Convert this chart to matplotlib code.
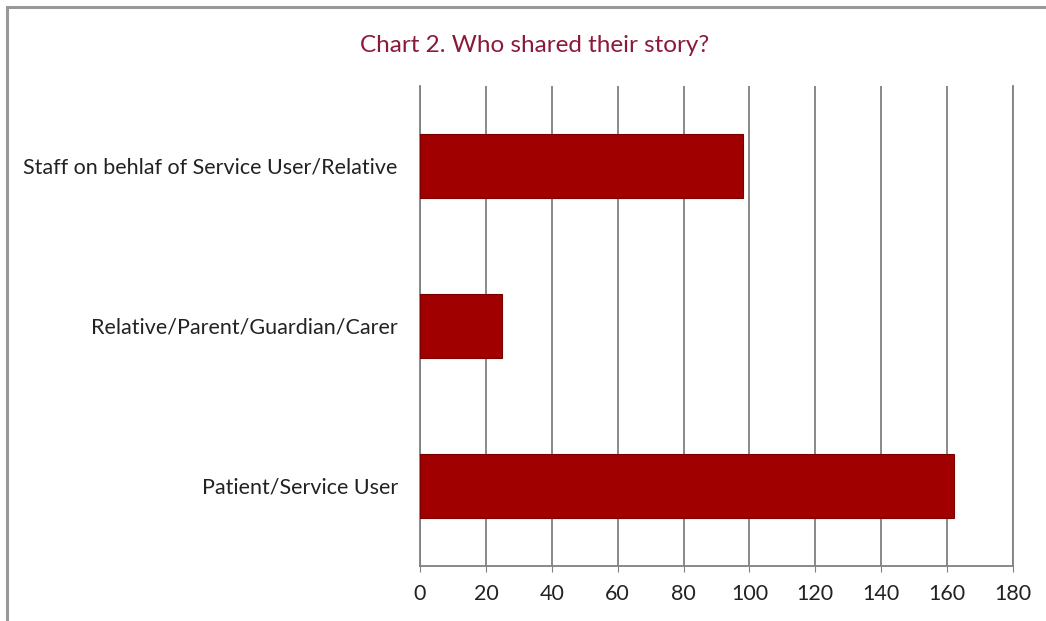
import matplotlib.pyplot as plt
from matplotlib.patches import Rectangle

# who shared their story - counts per group
groups = ['Patient/Service User', 'Relative/Parent/Guardian/Carer',
          'Staff on behlaf of Service User/Relative']
counts = [162, 25, 98]
xticks = [0, 20, 40, 60, 80, 100, 120, 140, 160, 180]

plt.rcParams['font.family'] = ['Lato', 'DejaVu Sans']

fig = plt.figure(figsize=(10.46, 6.21), dpi=100)
ax = fig.add_axes([420/1046, 1-566/621, 593/1046, 480/621])

ax.barh(range(len(groups)), counts, height=0.4, color='#a00000',
        edgecolor='#780000', linewidth=0.8, zorder=3)

ax.set_xlim(0, 180)
ax.set_ylim(-0.5, 2.5)
ax.set_xticks(xticks)
ax.set_yticks(range(len(groups)))
ax.set_yticklabels(groups, fontsize=15.5, color='#222222')
ax.tick_params(axis='x', labelsize=15.5, labelcolor='#222222', length=4,
               color='#808080', pad=9)
ax.tick_params(axis='y', length=0, pad=16)
ax.grid(axis='x', color='#808080', linewidth=1.3, zorder=0)
ax.spines['top'].set_visible(False)
for s in ['left', 'right', 'bottom']:
    ax.spines[s].set_color('#808080')
    ax.spines[s].set_linewidth(1.3)

fig.text(535/1046, 1-45/621, 'Chart 2. Who shared their story?',
         ha='center', va='center', fontsize=17.5, color='#8b1a3a')

# border, only left and top edges show
fig.patches.append(Rectangle((7/1046, -0.1), 1.2, 1.1 - 7/621 + 0.0, transform=fig.transFigure,
                             fill=False, edgecolor='#999999', linewidth=2.2))

fig.savefig('out.png', dpi=100)
